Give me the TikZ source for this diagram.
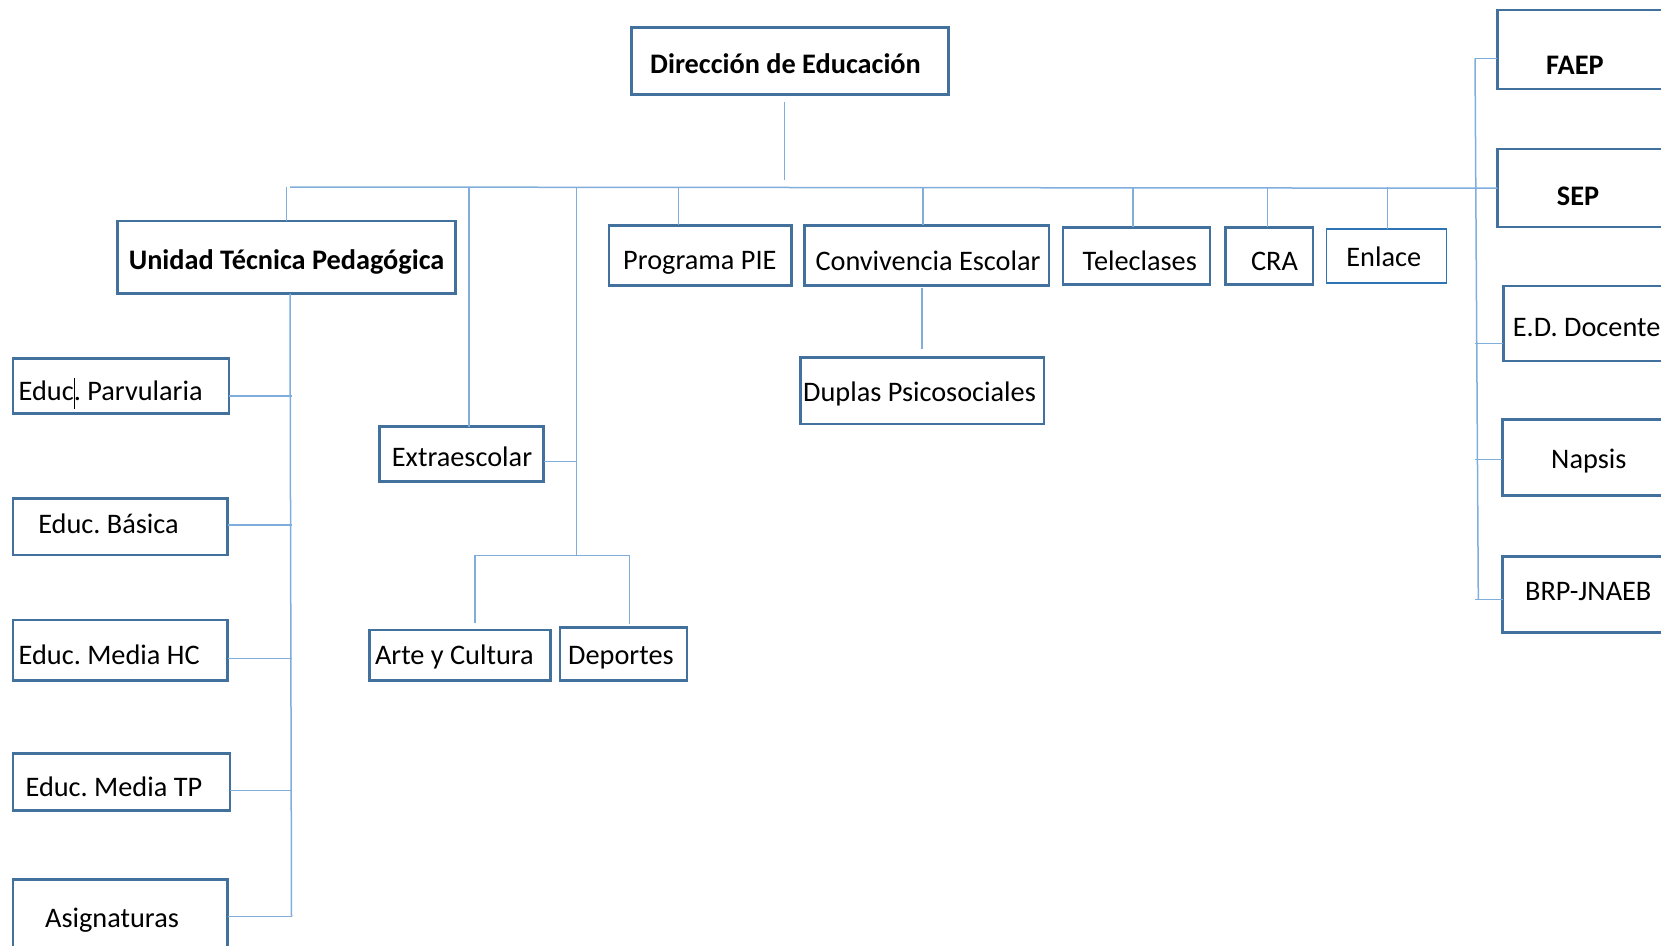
\documentclass[tikz,border=0pt]{standalone}
\usepackage{fontspec}
\setmainfont{Carlito}
\usetikzlibrary{positioning}
\definecolor{bordeC}{HTML}{41719C}
\definecolor{enlaceC}{HTML}{2E75B6}
\definecolor{lineaC}{HTML}{7FAEDD}
\newcommand\cuerpo{\fontsize{28.3}{34}\selectfont\frenchspacing}
\tikzset{
  caja/.style={draw=bordeC, line width=2.5pt, inner sep=0pt, outer sep=0pt},
  rotulo/.style={anchor=base west, inner sep=0pt, yshift=-1.5pt, font=\cuerpo},
  negrita/.style={rotulo, font=\cuerpo\bfseries},
  linea/.style={draw=lineaC, line width=1.5pt},
}
\begin{document}
\begin{tikzpicture}[x=1pt, y=-1pt]
  \useasboundingbox (0,0) rectangle (1661,945);
  \clip (0,0) rectangle (1661,945);

  % cajas
  \node[caja, minimum width=317.1pt, minimum height=66.6pt] (dir) at (790,61) {};
  \node[caja, minimum width=337.8pt, minimum height=72.7pt] (utp) at (286.4,257.35) {};
  \node[caja, minimum width=182.6pt, minimum height=60.4pt] (pie) at (700.1,255.5) {};
  \node[caja, minimum width=244.5pt, minimum height=60.4pt] (conv) at (926.95,255.5) {};
  \node[caja, minimum width=147.2pt, minimum height=57pt] (tele) at (1136.5,255.8) {};
  \node[caja, minimum width=87.3pt, minimum height=57pt] (cra) at (1269.15,255.8) {};
  \node[caja, draw=enlaceC, line width=1.3pt, minimum width=120.1pt, minimum height=54pt] (enlace) at (1386.65,256) {};
  \node[caja, minimum width=243.5pt, minimum height=66.3pt] (duplas) at (922.15,390.85) {};
  \node[caja, minimum width=164.1pt, minimum height=55pt] (extra) at (461.65,454.2) {};
  \node[caja, minimum width=181.1pt, minimum height=50.7pt] (arte) at (460.05,655.35) {};
  \node[caja, minimum width=127pt, minimum height=53pt] (depo) at (623.6,654.2) {};
  \node[caja, minimum width=216pt, minimum height=55pt] (parv) at (121.2,385.8) {};
  \node[caja, minimum width=214.4pt, minimum height=56.7pt] (basica) at (120.4,526.65) {};
  \node[caja, minimum width=214.4pt, minimum height=60.7pt] (hc) at (120.4,650.35) {};
  \node[caja, minimum width=216.6pt, minimum height=57.4pt] (tp) at (121.5,782) {};
  \node[caja, minimum width=214.4pt, minimum height=75.7pt] (asig) at (120.4,917.15) {};
  \node[caja, minimum width=203pt, minimum height=78.9pt] (faep) at (1598.8,49.65) {};
  \node[caja, minimum width=203pt, minimum height=78pt] (sep) at (1598.8,188.2) {};
  \node[caja, minimum width=196.7pt, minimum height=74.9pt] (edd) at (1601.65,323.45) {};
  \node[caja, minimum width=197.7pt, minimum height=76pt] (napsis) at (1601.15,457.7) {};
  \node[caja, minimum width=197.3pt, minimum height=76pt] (brp) at (1601.35,594.6) {};

  % textos
  \node[negrita] (dirT) at (650,71.7) {Dirección de Educación};
  \node[negrita] (utpT) at (128.6,268.3) {Unidad Técnica Pedagógica};
  \node[rotulo] (pieT) at (623,268.3) {Programa PIE};
  \node[rotulo] (convT) at (815.3,269) {Convivencia Escolar};
  \node[rotulo] (teleT) at (1082.5,269.3) {Teleclases};
  \node[rotulo] (craT) at (1250.9,269.3) {CRA};
  \node[rotulo] (enlaceT) at (1346.2,265) {Enlace};
  \node[rotulo] (duplasT) at (803,400) {Duplas Psicosociales};
  \node[rotulo] (extraT) at (391.7,465) {Extraescolar};
  \node[rotulo] (arteT) at (374.8,663.3) {Arte y Cultura};
  \node[rotulo] (depoT) at (568,663.3) {Deportes};
  \node[rotulo] (parvT) at (18.5,399.3) {Educ. Parvularia};
  \node[rotulo] (basicaT) at (38.1,531.7) {Educ. Básica};
  \node[rotulo] (hcT) at (18.5,663.3) {Educ. Media HC};
  \node[rotulo] (tpT) at (25.4,795) {Educ. Media TP};
  \node[rotulo] (asigT) at (45,926) {Asignaturas};
  \node[negrita] (faepT) at (1546,72.7) {FAEP};
  \node[negrita] (sepT) at (1556.7,204.3) {SEP};
  \node[rotulo] (eddT) at (1512.7,335.1) {E.D. Docente};
  \node[rotulo] (napsisT) at (1551,466.7) {Napsis};
  \node[rotulo] (brpT) at (1525,598.7) {BRP-JNAEB};
  \draw[line width=1pt] (74.1,377.5) -- (74.1,409);

  % barra principal
  \coordinate (busL) at (290,187);
  \path ([xshift=-5.4pt]dir.south) coordinate (dirB);
  \draw[linea, shorten <=7.4pt, shorten >=7pt] (dirB) -- (dirB |- busL);
  \draw[linea] (busL) -- (sep.west);
  \foreach \n/\dx in {utp/0, pie/-21.4, conv/-3.8, tele/-3.7, cra/-1.9, enlace/0.8, extra/7.4}{
    \path (\n.north) ++(\dx,0) coordinate (caida);
    \draw[linea] (caida |- busL) -- (caida);
  }

  % extraescolar
  \coordinate (sub) at (576.5,555.7);
  \draw[linea] (sub |- busL) -- (sub);
  \path (extra.east) ++(0,7.5) coordinate (ext);
  \draw[linea] (ext) -- (ext -| sub);
  \path (arte.north) ++(14.9,0) coordinate (ac);
  \path (depo.north) ++(5.8,0) coordinate (dc);
  \draw[linea, shorten <=7pt] (ac) |- (sub);
  \draw[linea, shorten >=4pt] (sub) -| (dc);

  % convivencia
  \draw[linea, shorten <=2.6pt, shorten >=8.4pt] (duplas.north |- conv.south) -- (duplas.north);

  % unidad tecnica
  \path (utp.south) ++(3.6,0) coordinate (uA);
  \coordinate (uB) at (291.5,916.7);
  \draw[linea] (uA) -- (uB);
  \foreach \n/\dy in {parv/10, basica/-1.6, hc/8.3, tp/8.7, asig/-0.5}{
    \path (\n.east) ++(0,\dy) coordinate (rama);
    \draw[linea] (rama) -- (rama -| uB);
  }

  % columna derecha
  \coordinate (eN) at (1475,58.4);
  \coordinate (eS) at (1478.3,599.5);
  \draw[linea] (eN) -- (eS);
  \foreach \n/\dy in {faep/8.8, edd/19.9, napsis/2, brp/4.9}{
    \path (\n.west) ++(0,\dy) coordinate (rama);
    \draw[linea] (rama) -- (rama -| eN);
  }
\end{tikzpicture}
\end{document}
